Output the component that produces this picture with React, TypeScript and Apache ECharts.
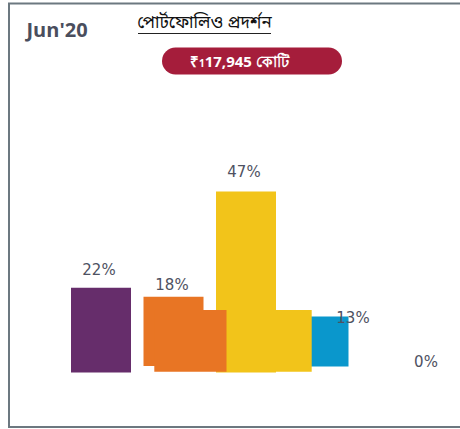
import React, { useEffect, useRef } from 'react';
import * as echarts from 'echarts';

// ---- data ----
const categories = ['Equity', 'Debt', 'Hybrid', 'Solution Oriented', 'Others'];
const shareValues = [22, 18, 47, 13, 0];
const transitionValues = [null, 16, 16, null, null];
const headerPeriod = "Jun'20";
const headerTitle = 'পোর্টফোলিও প্রদর্শন';
const aumPrefix = '₹';
const aumSub = '1';
const aumText = '17,945 কোটি';

// ---- styles ----
const BAR_COLORS = ['#662d6b', '#e87524', '#f2c41a', '#0a97cc', '#9aa0a6'];
const BAR_WIDTH = 60;
const BAR_LIFT = [0, 6.5, 0, 6, 0];
const LABEL_OFFSET = [
  [-2, -18],
  [-1.5, -12],
  [-2, -20],
  [34.5, 1.5],
  [35, -10.5],
];
const GHOST_STYLE: any[] = [
  null,
  { dx: -19.2, w: 72.4, lift: 0.8, color: '#e87524' },
  { dx: -19.3, w: 85, lift: 0.8, color: '#f2c41a' },
  null,
  null,
];
const LABEL_COLOR = '#4e5262';
const LABEL_FONT = '15px "DejaVu Sans", sans-serif';

export default function App() {
  const ref = useRef<HTMLDivElement>(null);
  useEffect(() => {
    if (!ref.current) return;
    const chart = echarts.init(ref.current, null, { renderer: 'svg' });
    const option: any = {
      animation: false,
      backgroundColor: '#ffffff',
      grid: { left: 64.75, right: 32.75, top: 180, bottom: 56.5 },
      xAxis: {
        type: 'category',
        data: categories,
        show: false,
      },
      yAxis: { type: 'value', min: 0, max: 50, show: false },
      graphic: [
        {
          type: 'rect',
          silent: true,
          shape: { x: 9, y: 3.5, width: 470, height: 423.5 },
          style: { fill: 'none', stroke: '#6c7880', lineWidth: 2 },
        },
        {
          type: 'text',
          style: {
            text: headerPeriod,
            x: 26.5,
            y: 29,
            verticalAlign: 'middle',
            font: 'bold 20px "Open Sans", sans-serif',
            fill: '#4a4e5d',
          },
        },
        {
          type: 'text',
          style: {
            text: headerTitle,
            x: 204.5,
            y: 23.5,
            align: 'center',
            verticalAlign: 'middle',
            font: '17px "Noto Sans Bengali", "Noto Sans", sans-serif',
            fill: '#111111',
          },
        },
        {
          type: 'line',
          shape: { x1: 138, y1: 33.5, x2: 271, y2: 33.5 },
          style: { stroke: '#222222', lineWidth: 1 },
        },
        {
          type: 'rect',
          shape: { x: 162, y: 47.5, width: 180, height: 27, r: 13.5 },
          style: { fill: '#a51d3b' },
        },
        {
          type: 'text',
          style: {
            text: `{a|${aumPrefix}}{b|${aumSub}}{a|${aumText}}`,
            x: 190,
            y: 61,
            verticalAlign: 'middle',
            fill: '#ffffff',
            rich: {
              a: { fontSize: 15, fontWeight: 'bold', fontFamily: '"Open Sans", sans-serif', fill: '#ffffff', color: '#ffffff' },
              b: { fontSize: 10, fontWeight: 'bold', fontFamily: '"Open Sans", sans-serif', fill: '#ffffff', color: '#ffffff', padding: [4, 0, 0, 0] },
            },
          },
        },
      ],
      series: [
        {
          type: 'custom',
          data: shareValues.map((v, i) => [i, v]),
          renderItem: (params: any, api: any) => {
            const i = api.value(0);
            const v = api.value(1);
            const top = api.coord([i, v]);
            const base = api.coord([i, 0]);
            const lift = BAR_LIFT[i];
            const h = base[1] - top[1];
            const [dx, dy] = LABEL_OFFSET[i];
            const children: any[] = [];
            if (h > 0) {
              children.push({
                type: 'rect',
                shape: { x: top[0] - BAR_WIDTH / 2, y: top[1] - lift, width: BAR_WIDTH, height: h },
                style: { fill: BAR_COLORS[i] },
              });
            }
            children.push({
              type: 'text',
              style: {
                text: `${v}%`,
                x: top[0] + dx,
                y: top[1] - lift + dy,
                align: 'center',
                verticalAlign: 'middle',
                fill: LABEL_COLOR,
                font: LABEL_FONT,
              },
            });
            return { type: 'group', children };
          },
        },
        {
          type: 'custom',
          data: transitionValues.map((v, i) => [i, v]).filter((d) => d[1] != null),
          renderItem: (params: any, api: any) => {
            const i = api.value(0);
            const v = api.value(1);
            const g = GHOST_STYLE[i];
            if (!g) return null;
            const top = api.coord([i, v]);
            const base = api.coord([i, 0]);
            return {
              type: 'rect',
              shape: { x: top[0] + g.dx, y: top[1] - g.lift, width: g.w, height: base[1] - top[1] },
              style: { fill: g.color },
            };
          },
        },
      ],
    };
    chart.setOption(option);
    return () => chart.dispose();
  }, []);
  return (
    <div
      ref={ref}
      style={{ position: 'absolute', left: 0, top: 0, width: 460, height: 429 }}
    />
  );
}
